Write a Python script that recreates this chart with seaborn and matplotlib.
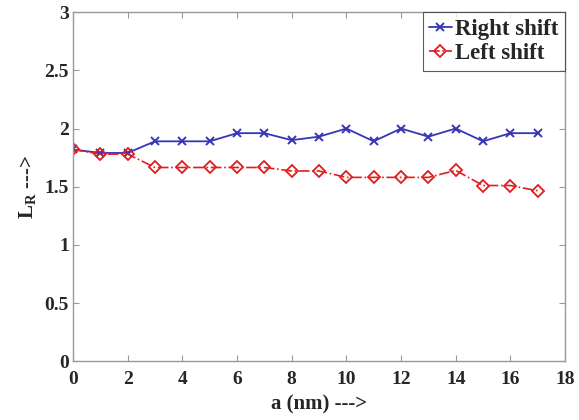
import numpy as np
import pandas as pd
import seaborn as sns
import matplotlib.pyplot as plt

a_nm = list(range(18))
rightShift = [1.82, 1.79, 1.79, 1.89, 1.89, 1.89, 1.96, 1.96, 1.90, 1.93,
              2.00, 1.89, 2.00, 1.93, 2.00, 1.89, 1.96, 1.96]
leftShift = [1.82, 1.78, 1.78, 1.665, 1.665, 1.665, 1.665, 1.665, 1.635, 1.635,
             1.58, 1.58, 1.58, 1.58, 1.64, 1.51, 1.51, 1.465]

df = pd.DataFrame({'a': a_nm, 'Right shift': rightShift, 'Left shift': leftShift})

sns.set_style('white')
plt.rcParams['font.family'] = ['Liberation Serif', 'DejaVu Serif']
plt.rcParams['font.weight'] = 'bold'
plt.rcParams['mathtext.fontset'] = 'custom'
plt.rcParams['mathtext.bf'] = 'Liberation Serif:bold'
plt.rcParams['mathtext.rm'] = 'Liberation Serif:bold'

blue = '#3535b8'
red = '#e01e1e'

fig = plt.figure(figsize=(5.79, 4.2), dpi=100)
ax = fig.add_axes([0.126, 0.14, 0.85, 0.831])

sns.lineplot(data=df, x='a', y='Right shift', ax=ax, color=blue, marker='x',
             markersize=6, markeredgecolor=blue, markeredgewidth=1.4,
             linewidth=1.3, label='Right shift')
sns.lineplot(data=df, x='a', y='Left shift', ax=ax, color=red, marker='D',
             markersize=6, markerfacecolor='none', markeredgecolor=red,
             markeredgewidth=1.3, linewidth=1.2, linestyle='-.', label='Left shift')

ax.set_xlim(0, 18)
ax.set_ylim(0, 3)
ax.set_xticks(range(0, 19, 2))
ax.set_yticks([0, 0.5, 1, 1.5, 2, 2.5, 3])
ax.set_yticklabels(['0', '0.5', '1', '1.5', '2', '2.5', '3'])
ax.tick_params(direction='in', length=4, color='#999999', labelsize=14,
               top=True, right=True, bottom=True, left=True, pad=3)
ax.tick_params(axis='x', pad=7)
for lab in ax.get_xticklabels() + ax.get_yticklabels():
    lab.set_fontweight('bold')
for sp in ax.spines.values():
    sp.set_color('#999999')
    sp.set_linewidth(1.0)

ax.set_xlabel('a (nm) --->', fontsize=15, fontweight='bold', labelpad=5)
ax.set_ylabel(r'L$_\mathrm{R}$ --->', fontsize=15, fontweight='bold', labelpad=4)

leg = ax.legend(loc='upper right', fontsize=16.5, frameon=True, fancybox=False,
                borderpad=0.28, handlelength=1.0, handletextpad=0.15,
                labelspacing=0.15, borderaxespad=0.0)
leg.get_frame().set_edgecolor('#333333')
leg.get_frame().set_linewidth(0.8)
for t in leg.get_texts():
    t.set_fontweight('bold')

fig.savefig('out.png', dpi=100)
